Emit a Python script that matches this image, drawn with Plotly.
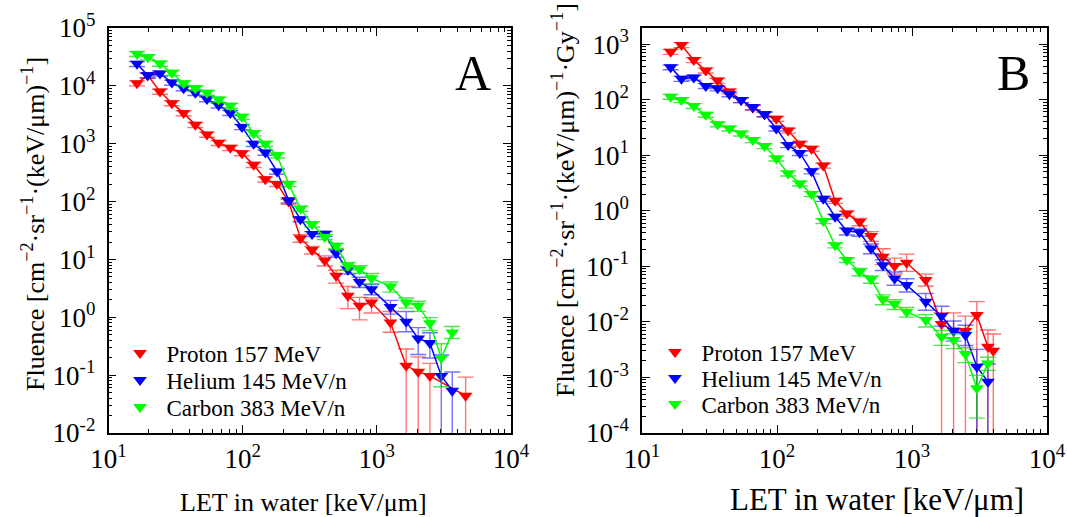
import plotly.graph_objects as go

# ---------------- data ----------------
LET_BINS = [16.3, 19.6, 24.2, 29.7, 36.3, 44.4, 54.2, 66.2, 80.9, 98.8,
            120.8, 147.6, 180.3, 220.3, 269.5, 329, 409, 497, 608, 743,
            912, 1264, 1655, 2033, 2487, 3022, 3648]
PROTON_A_LAST_LET = 4590
PROTON_B_LAST_LET = 4000

# Panel A : fluence
proton_a = [11100, 15200, 7960, 5020, 3380, 2120, 1440, 1035, 848, 687,
            431, 242, 202, 100, 23.3, 14.6, 9.6, 5.2, 2.35, 1.58,
            1.80, 0.81, 0.145, 0.115, 0.097, 0.044]
proton_a_up = [0.1] * 14 + [0.15, 0.15, 0.2, 0.25, 0.45, 0.4, 0.2, 0.55, 0.95, 0.8, 0.65, 1.1]
proton_a_dn = [0.1] * 14 + [0.15, 0.15, 0.2, 0.25, 0.4, 0.43, 0.34, 0.32, 1, 1, 1, 1]

helium_a = [24000, 15200, 16400, 11400, 9120, 7570, 5910, 4600, 3410, 1950,
            995, 703, 330, 105, 49.7, 27.5, 27.7, 12.8, 6.6, 4.09,
            3.06, 1.51, 0.84, 0.43, 0.36, 0.097, 0.054]
helium_a_up = [0.1] * 17 + [0.15, 0.15, 0.2, 0.2, 0.3, 0.5, 0.54, 0.5, 1.3, 1.1]
helium_a_dn = [0.1] * 17 + [0.15, 0.15, 0.2, 0.2, 0.25, 0.33, 0.47, 0.45, 1, 1]

carbon_a = [35700, 31300, 24300, 16800, 11100, 9130, 7570, 5800, 4510, 2910,
            1520, 995, 630, 202, 75.5, 40.4, 24.5, 17.2, 7.74, 6.79,
            4.75, 3.40, 1.80, 1.58, 0.79, 0.197, 0.545]
carbon_a_up = [0.1] * 18 + [0.15, 0.15, 0.2, 0.2, 0.2, 0.2, 0.25, 0.77, 0.27]
carbon_a_dn = [0.1] * 18 + [0.15, 0.15, 0.2, 0.2, 0.2, 0.2, 0.25, 0.68, 0.21]

# Panel B : fluence per dose
proton_b = [727, 960, 515, 336, 221, 141, 98.2, 71.4, 54.6, 45.3,
            27.8, 16.1, 13.1, 6.51, 1.51, 0.89, 0.634, 0.351, 0.149, 0.101,
            0.116, 0.0566, 0.00914, 0.00693, 0.00684, 0.0133, 0.00357, 0.00303]
proton_b_up = [0.1] * 16 + [0.15, 0.2, 0.39, 0.39, 0.43, 0.28, 0.6, 1.1, 0.86, 0.74, 1.0, 1.0]
proton_b_dn = [0.1] * 16 + [0.15, 0.2, 0.28, 0.28, 0.3, 0.22, 1, 1, 1, 1, 1, 1]

helium_b = [383, 237, 250, 177, 160, 125, 98.2, 73.5, 54.6, 30.4,
            15.2, 11.0, 5.12, 1.64, 0.78, 0.431, 0.41, 0.21, 0.105, 0.0607,
            0.046, 0.0231, 0.0127, 0.00693, 0.0058, 0.00156, 0.00084]
helium_b_up = [0.1] * 15 + [0.15, 0.15, 0.2, 0.25, 0.3, 0.3, 0.4, 0.51, 0.5, 0.5, 1.05, 1.08]
helium_b_dn = [0.1] * 15 + [0.15, 0.15, 0.2, 0.2, 0.25, 0.25, 0.3, 0.34, 0.35, 0.35, 1, 1]

carbon_b = [113, 98.2, 77.2, 53.5, 36.1, 30.4, 24.7, 18.7, 14.6, 8.77,
            4.71, 3.11, 2.01, 0.655, 0.239, 0.130, 0.0798, 0.0583, 0.0255, 0.0209,
            0.0152, 0.0108, 0.0054, 0.00471, 0.00264, 0.00064, 0.00179]
carbon_b_up = [0.1] * 16 + [0.15, 0.15, 0.2, 0.2, 0.2, 0.25, 0.3, 0.3, 0.3, 0.7, 0.29]
carbon_b_dn = [0.1] * 16 + [0.15, 0.15, 0.2, 0.2, 0.2, 0.25, 0.3, 0.3, 0.3, 0.71, 0.25]

SERIES_NAMES = ["Proton 157 MeV", "Helium 145 MeV/n", "Carbon 383 MeV/n"]
X_TICK_TEXT = ["10<sup>1</sup>", "10<sup>2</sup>", "10<sup>3</sup>", "10<sup>4</sup>"]
Y_A_EXP = [-2, -1, 0, 1, 2, 3, 4, 5]
Y_B_EXP = [-4, -3, -2, -1, 0, 1, 2, 3]

# ---------------- styling ----------------
FONT = "Liberation Serif, Times New Roman, DejaVu Serif, serif"
W, H = 1067, 517
COLORS = ["#FF0000", "#0000FF", "#00FF00"]
ERR_COLORS = ["rgba(255,0,0,0.55)", "rgba(0,0,255,0.55)", "rgba(0,220,0,0.7)"]


def fx(p):
    return p / W


def fy(p):
    return 1 - p / H


fig = go.Figure()

panels = [
    ("x", "y", [
        (LET_BINS[:25] + [PROTON_A_LAST_LET], proton_a, proton_a_up, proton_a_dn),
        (LET_BINS, helium_a, helium_a_up, helium_a_dn),
        (LET_BINS, carbon_a, carbon_a_up, carbon_a_dn),
    ]),
    ("x2", "y2", [
        (LET_BINS + [PROTON_B_LAST_LET], proton_b, proton_b_up, proton_b_dn),
        (LET_BINS, helium_b, helium_b_up, helium_b_dn),
        (LET_BINS, carbon_b, carbon_b_up, carbon_b_dn),
    ]),
]

for xa, ya, series in panels:
    for i, (xs, ys, up, dn) in enumerate(series):
        fig.add_trace(go.Scatter(
            x=xs, y=ys, xaxis=xa, yaxis=ya, mode="lines+markers",
            line=dict(color=COLORS[i], width=1.5),
            marker=dict(symbol="triangle-down", size=12, color=COLORS[i]),
            error_y=dict(type="data", symmetric=False,
                         array=[v * r for v, r in zip(ys, up)],
                         arrayminus=[v * r for v, r in zip(ys, dn)],
                         color=ERR_COLORS[i], thickness=1.4, width=8),
            showlegend=False, hoverinfo="skip"))

# legends (marker only), one legend per row for exact placement
legend_rows = {
    "A": dict(sym_x=140, rows=[353, 380, 407]),
    "B": dict(sym_x=675, rows=[352, 378, 404]),
}
ITEMW = 43
legend_layout = {}
k = 1
for panel in ["A", "B"]:
    spec = legend_rows[panel]
    for i, name in enumerate(SERIES_NAMES):
        lname = "legend" if k == 1 else f"legend{k}"
        fig.add_trace(go.Scatter(
            x=[None], y=[None], mode="markers", name=name, legend=lname,
            marker=dict(symbol="triangle-down", size=12, color=COLORS[i]),
            xaxis="x" if panel == "A" else "x2", yaxis="y" if panel == "A" else "y2"))
        legend_layout[lname] = dict(
            x=fx(spec["sym_x"] - ITEMW / 2 - 5), y=fy(spec["rows"][i]),
            xanchor="left", yanchor="middle",
            bgcolor="rgba(0,0,0,0)", borderwidth=0, itemwidth=ITEMW,
            font=dict(family=FONT, size=23, color="black"))
        k += 1


def minor_vals(e0, e1):
    return [m * 10 ** e for e in range(e0, e1) for m in range(2, 10)]


axis_common = dict(
    type="log", showline=True, linecolor="black", linewidth=1.5, mirror="allticks",
    ticks="inside", ticklen=8, tickwidth=1.3, tickcolor="black",
    showgrid=False, zeroline=False, automargin=False,
    tickfont=dict(family=FONT, size=27, color="black"),
)

y_dom = [fy(433), fy(28)]
fig.update_layout(
    template="none",
    width=W, height=H, margin=dict(l=0, r=0, t=0, b=0, autoexpand=False),
    paper_bgcolor="white", plot_bgcolor="white",
    font=dict(family=FONT, color="black"),
    xaxis=dict(axis_common, domain=[fx(108.5), fx(511)], range=[1, 4], anchor="y",
               tickmode="array", tickvals=[10, 100, 1000, 10000], ticktext=X_TICK_TEXT,
               ticklabelstandoff=1,
               minor=dict(tickmode="array", tickvals=minor_vals(1, 4), ticks="inside",
                          ticklen=4, tickwidth=1, tickcolor="black", showgrid=False)),
    yaxis=dict(axis_common, domain=y_dom, range=[-2, 5], anchor="x",
               tickmode="array", tickvals=[10 ** e for e in Y_A_EXP],
               ticktext=[f"10<sup>{e}</sup>" for e in Y_A_EXP],
               ticklabelstandoff=6,
               minor=dict(tickmode="array", tickvals=minor_vals(-2, 5), ticks="inside",
                          ticklen=4, tickwidth=1, tickcolor="black", showgrid=False)),
    xaxis2=dict(axis_common, domain=[fx(642), fx(1047)], range=[1, 4], anchor="y2",
                tickmode="array", tickvals=[10, 100, 1000, 10000], ticktext=X_TICK_TEXT,
                ticklabelstandoff=1,
                minor=dict(tickmode="array", tickvals=minor_vals(1, 4), ticks="inside",
                           ticklen=4, tickwidth=1, tickcolor="black", showgrid=False)),
    yaxis2=dict(axis_common, domain=y_dom, range=[-4, 3.29], anchor="x2",
                tickmode="array", tickvals=[10 ** e for e in Y_B_EXP],
                ticktext=[f"10<sup>{e}</sup>" for e in Y_B_EXP],
                ticklabelstandoff=6,
                minor=dict(tickmode="array", tickvals=minor_vals(-4, 4), ticks="inside",
                           ticklen=4, tickwidth=1, tickcolor="black", showgrid=False)),
    **legend_layout,
)

annotations = [
    dict(text="A", x=fx(473), y=fy(73), font=dict(size=50)),
    dict(text="B", x=fx(1013), y=fy(73), font=dict(size=50)),
    dict(text="LET in water [keV/μm]", x=fx(303), y=fy(502), font=dict(size=26)),
    dict(text="LET in water [keV/μm]", x=fx(877), y=fy(499), font=dict(size=31)),
    dict(text="Fluence [cm<sup>−2</sup>·sr<sup>−1</sup>·(keV/μm)<sup>−1</sup>]",
         x=fx(33), y=fy(224), textangle=-90, font=dict(size=26)),
    dict(text="Fluence [cm<sup>−2</sup>·sr<sup>−1</sup>·(keV/μm)<sup>−1</sup>·Gy<sup>−1</sup>]",
         x=fx(563), y=fy(200), textangle=-90, font=dict(size=26)),
]
for a in annotations:
    a.update(xref="paper", yref="paper", showarrow=False, xanchor="center", yanchor="middle")
    a["font"].update(family=FONT, color="black")
fig.update_layout(annotations=annotations)

fig.write_html(
    "out.html",
    config={"displayModeBar": False},
    post_script="document.body.style.margin='0';document.body.style.padding='0';",
)
